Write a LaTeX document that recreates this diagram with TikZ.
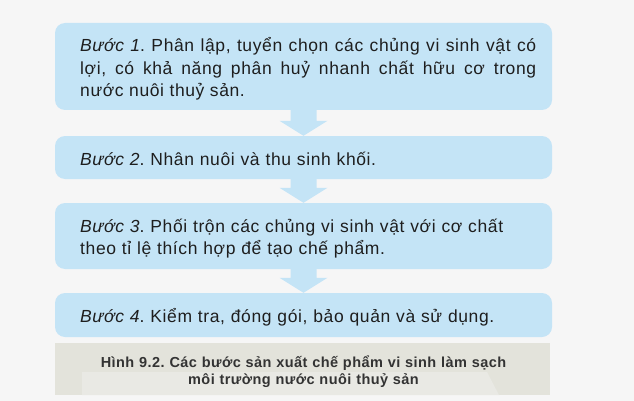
\documentclass[tikz,border=0pt]{standalone}
\usepackage{fontspec}
\setmainfont{Liberation Sans}
\newfontfamily\stepfont[LetterSpace=3.5]{Liberation Sans}
\newfontfamily\capfont[LetterSpace=3.0]{Liberation Sans}
\usetikzlibrary{calc}
\definecolor{bgcol}{HTML}{F6F6F6}
\definecolor{boxcol}{HTML}{C4E4F6}
\definecolor{capcol}{HTML}{E3E3DB}
\definecolor{wmcol}{HTML}{E9E9E4}
\definecolor{txtcol}{HTML}{1E1E1E}
\definecolor{captxt}{HTML}{333333}
\tikzset{
  stepbox/.style={fill=boxcol, draw=none, rounded corners=10pt, minimum width=497pt, inner sep=0pt},
  steptext/.style={anchor=base west, inner sep=0pt, text=txtcol, text width=470pt, font=\frenchspacing\stepfont\fontsize{17.5}{22.5}\selectfont, align=left},
  downarrow/.style={fill=boxcol, draw=none},
  capbox/.style={fill=capcol, draw=none, minimum width=495pt, minimum height=52pt, inner sep=0pt},
  captext/.style={inner sep=0pt, text=captxt, text width=480pt, font=\frenchspacing\capfont\bfseries\fontsize{14.5}{17.5}\selectfont, align=center, anchor=base}
}
\begin{document}
\begin{tikzpicture}[x=1pt, y=-1pt]
\fill[bgcol] (0,0) rectangle (634,401);
\useasboundingbox (0,0) rectangle (634,401);

% boxes
\node[stepbox, minimum height=87pt] (b1) at (303.5,66.5) {};
\node[stepbox, minimum height=43pt] (b2) at (303.5,157.5) {};
\node[stepbox, minimum height=66pt] (b3) at (303.5,236) {};
\node[stepbox, minimum height=44pt] (b4) at (303.5,315) {};

% arrows
\foreach \a/\b in {b1/b2, b2/b3, b3/b4}{
  \fill[downarrow] ($(\a.south)+(-13,-1)$) -- ($(\b.north)+(-13,-15)$) -- ($(\b.north)+(-24,-15)$)
    -- (\b.north) -- ($(\b.north)+(24,-15)$) -- ($(\b.north)+(13,-15)$) -- ($(\a.south)+(13,-1)$) -- cycle;
}

% texts
\node[steptext, text width=456pt, align=justify] (t1) at (80,52) {%
\textit{Bước 1}. Phân lập, tuyển chọn các chủng vi sinh vật có\linebreak
lợi, có khả năng phân huỷ nhanh chất hữu cơ trong\linebreak
nước nuôi thuỷ sản.};
\node[steptext] (t2) at (80,165) {\textit{Bước 2}. Nhân nuôi và thu sinh khối.};
\node[steptext] (t3) at (80,232) {\textit{Bước 3}. Phối trộn các chủng vi sinh vật với cơ chất\\theo tỉ lệ thích hợp để tạo chế phẩm.};
\node[steptext] (t4) at (80,322) {\textit{Bước 4}. Kiểm tra, đóng gói, bảo quản và sử dụng.};

% caption
\node[capbox] (cap) at (302.5,369) {};
\fill[wmcol] (82,372) -- (487,372) -- (499,395) -- (82,395) -- cycle;
\node[captext] (ct) at (303.5,367) {Hình 9.2. Các bước sản xuất chế phẩm vi sinh làm sạch\\môi trường nước nuôi thuỷ sản};
\end{tikzpicture}
\end{document}
